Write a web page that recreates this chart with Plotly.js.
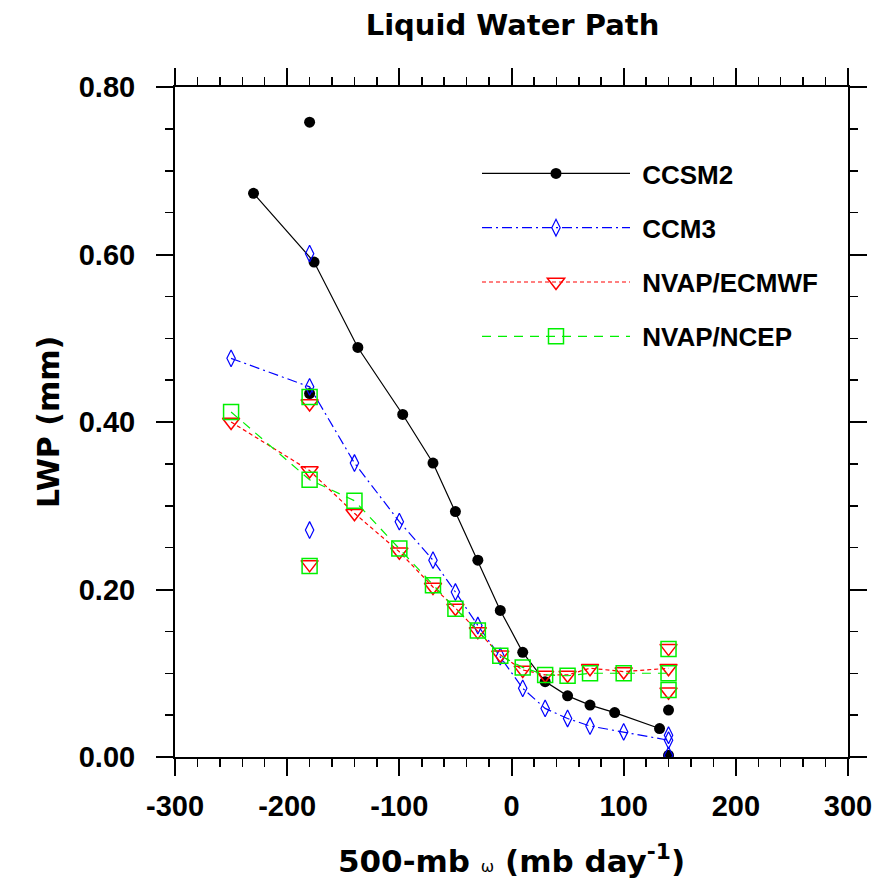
<!DOCTYPE html>
<html>
<head>
<meta charset="utf-8">
<script src="https://cdn.plot.ly/plotly-3.0.1.min.js"></script>
<style>html,body{margin:0;padding:0;background:#fff;}</style>
</head>
<body>
<div id="chart" style="width:874px;height:887px;"></div>
<script>
// ---- data ----
var seriesNames = ["CCSM2", "CCM3", "NVAP/ECMWF", "NVAP/NCEP"];

var ccsm2X = [-230, -176, -137, -97, -70, -50, -30, -10, 10, 30, 50, 70, 92, 132];
var ccsm2Y = [0.673, 0.591, 0.489, 0.409, 0.351, 0.293, 0.235, 0.175, 0.125, 0.090, 0.073, 0.062, 0.053, 0.034];
var ccsm2ExtraX = [-180, -180, 140, 140];
var ccsm2ExtraY = [0.758, 0.434, 0.056, 0.002];

var ccm3X = [-250, -180, -140, -100, -70, -50, -30, -10, 10, 30, 50, 70, 100, 140];
var ccm3Y = [0.476, 0.442, 0.351, 0.281, 0.235, 0.197, 0.157, 0.120, 0.082, 0.058, 0.046, 0.037, 0.030, 0.020];
var ccm3ExtraX = [-180, -180, 140, 140];
var ccm3ExtraY = [0.601, 0.271, 0.026, 0.002];

var ecmwfX = [-250, -180, -140, -100, -70, -50, -30, -10, 10, 30, 50, 70, 100, 140];
var ecmwfY = [0.400, 0.342, 0.291, 0.245, 0.203, 0.178, 0.150, 0.122, 0.104, 0.098, 0.098, 0.106, 0.102, 0.106];
var ecmwfExtraX = [-180, -180, 140, 140];
var ecmwfExtraY = [0.422, 0.230, 0.130, 0.078];

var ncepX = [-250, -180, -140, -100, -70, -50, -30, -10, 10, 30, 50, 70, 100, 140];
var ncepY = [0.412, 0.331, 0.306, 0.249, 0.205, 0.177, 0.151, 0.121, 0.107, 0.098, 0.097, 0.100, 0.100, 0.100];
var ncepExtraX = [-180, -180, 140, 140];
var ncepExtraY = [0.430, 0.228, 0.129, 0.080];

var xTickVals = [-300, -200, -100, 0, 100, 200, 300];
var yTickVals = [0, 0.2, 0.4, 0.6, 0.8];
var yTickText = ["0.00", "0.20", "0.40", "0.60", "0.80"];

// join the connected line with isolated points (separated by gaps)
function withExtras(x, y, ex, ey) {
  var X = x.slice(), Y = y.slice();
  for (var i = 0; i < ex.length; i++) { X.push(null, ex[i]); Y.push(null, ey[i]); }
  return {x: X, y: Y};
}

var TITLEFONT = "DejaVu Sans";
var FONT = "Liberation Sans";
var NB = "\u00A0";
var s1 = withExtras(ccsm2X, ccsm2Y, ccsm2ExtraX, ccsm2ExtraY);
var s2 = withExtras(ccm3X, ccm3Y, ccm3ExtraX, ccm3ExtraY);
var s3 = withExtras(ecmwfX, ecmwfY, ecmwfExtraX, ecmwfExtraY);
var s4 = withExtras(ncepX, ncepY, ncepExtraX, ncepExtraY);

var traces = [
  {x: s1.x, y: s1.y, name: NB + seriesNames[0], mode: "lines+markers", connectgaps: false, legendgroup: "a",
   line: {color: "#000000", width: 1.2, dash: "solid"},
   marker: {symbol: "circle", size: 11, color: "#000000"}},
  {x: s2.x, y: s2.y, name: NB + seriesNames[1], mode: "lines+markers", connectgaps: false, legendgroup: "b",
   line: {color: "#0000ff", width: 1.2, dash: "10px,4px,2px,4px"},
   marker: {symbol: "diamond-tall-open", size: 12, color: "#0000ff", line: {width: 1.2, color: "#0000ff"}}},
  {x: s3.x, y: s3.y, name: NB + seriesNames[2], mode: "lines+markers", connectgaps: false, legendgroup: "c",
   line: {color: "#ff0000", width: 1.2, dash: "4px,3px"},
   marker: {symbol: "triangle-down-open", size: 15, color: "#ff0000", line: {width: 1.5, color: "#ff0000"}}},
  {x: s4.x, y: s4.y, name: NB + seriesNames[3], mode: "lines+markers", connectgaps: false, legendgroup: "d",
   line: {color: "#00f000", width: 1.2, dash: "9px,7px"},
   marker: {symbol: "square-open", size: 15, color: "#00f000", line: {width: 1.5, color: "#00f000"}}}
];

var layout = {
  width: 874, height: 887,
  margin: {l: 175, r: 26, t: 87, b: 130, pad: 0},
  paper_bgcolor: "#ffffff", plot_bgcolor: "#ffffff",
  font: {family: FONT, color: "#000000"},
  showlegend: true,
  title: {text: "Liquid Water Path", font: {family: TITLEFONT, size: 29, color: "#000", weight: "bold"},
          x: 512.5/874, xanchor: "center", xref: "container", y: 1 - 25/887, yanchor: "middle", yref: "container"},
  xaxis: {
    range: [-300, 300], tickvals: xTickVals, ticktext: xTickVals.map(String),
    ticks: "outside", ticklen: 17, tickwidth: 2, tickcolor: "#000",
    showline: true, linewidth: 2, linecolor: "#000", mirror: "ticks",
    showgrid: false, zeroline: false, ticklabelstandoff: 5,
    minor: {dtick: 20, tick0: 0, ticks: "outside", ticklen: 8, tickwidth: 1.5, tickcolor: "#000", showgrid: false},
    tickfont: {family: FONT, size: 29, color: "#000", weight: "bold"},
    title: {text: "500-mb <span style='font-size:16px;font-weight:normal'>ω</span> (mb day<sup>-1</sup>)",
            font: {family: TITLEFONT, size: 31, color: "#000", weight: "bold"}, standoff: 30}
  },
  yaxis: {
    range: [0, 0.8], tickvals: yTickVals, ticktext: yTickText,
    ticks: "outside", ticklen: 17, tickwidth: 2, tickcolor: "#000",
    showline: true, linewidth: 2, linecolor: "#000", mirror: "ticks",
    showgrid: false, zeroline: false, ticklabelstandoff: 15,
    minor: {dtick: 0.05, tick0: 0, ticks: "outside", ticklen: 8, tickwidth: 1.5, tickcolor: "#000", showgrid: false},
    tickfont: {family: FONT, size: 29, color: "#000", weight: "bold"},
    title: {text: "LWP (mm)", font: {family: TITLEFONT, size: 30, color: "#000", weight: "bold"}, standoff: 10}
  },
  legend: {
    x: (477 - 175) / 673, y: (757 - 150) / 670, xanchor: "left", yanchor: "top",
    bgcolor: "rgba(0,0,0,0)", borderwidth: 0,
    font: {family: FONT, size: 26, color: "#000", weight: "bold"},
    itemwidth: 148, tracegroupgap: 17.5, traceorder: "grouped"
  }
};

Plotly.newPlot("chart", traces, layout, {displayModeBar: false, staticPlot: true});
</script>
</body>
</html>
